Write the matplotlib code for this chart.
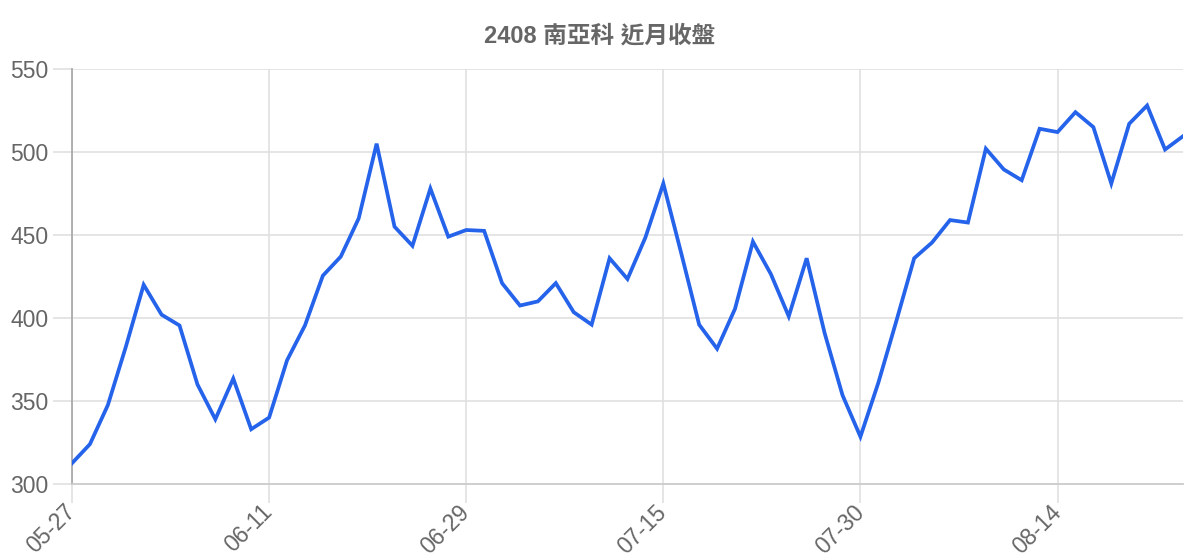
import matplotlib
matplotlib.use("Agg")
import matplotlib.pyplot as plt

plt.rcParams['font.family'] = ['Liberation Sans', 'Noto Sans CJK TC', 'DejaVu Sans']

# 收盤日期（每個交易日）
dates = ["05-27", "05-28", "05-29", "05-30", "05-31", "06-03", "06-04", "06-05",
         "06-06", "06-07", "06-10", "06-11", "06-12", "06-13", "06-14", "06-17",
         "06-18", "06-19", "06-20", "06-21", "06-24", "06-26", "06-29", "07-01",
         "07-02", "07-03", "07-04", "07-05", "07-08", "07-09", "07-10", "07-11",
         "07-12", "07-15", "07-16", "07-17", "07-18", "07-19", "07-22", "07-23",
         "07-24", "07-25", "07-26", "07-29", "07-30", "07-31", "08-01", "08-02",
         "08-05", "08-06", "08-07", "08-08", "08-09", "08-12", "08-13", "08-14",
         "08-15", "08-16", "08-19", "08-20", "08-21", "08-22", "08-23"]

# 收盤價
close = [312.5, 324, 347.5, 382.5, 420, 402, 395.5, 360, 339, 363.5,
         333, 340, 374.5, 395.5, 425.5, 437, 460, 505, 455, 443.5,
         478, 449, 453, 452.5, 421, 407.5, 410, 421, 403.5, 396,
         436, 423.5, 448.5, 481, 439, 396, 381.5, 405.5, 446, 426.5,
         401, 436, 391, 353.5, 328.5, 361, 398, 436, 445.5, 459,
         457.5, 502, 489.5, 483, 514, 512, 524, 515, 481, 517,
         528, 501.5, 509.5]

label_step = 11
title = "2408 南亞科 近月收盤"

fig = plt.figure(figsize=(12, 5.6), dpi=100)
ax = fig.add_axes([0.06, 1 - 484 / 560, 0.9858 - 0.06, (484 - 69) / 560])

x = list(range(len(close)))
ax.plot(x, close, color='#2563eb', linewidth=2.7, solid_joinstyle='miter', zorder=3)

ax.set_xlim(0, len(close) - 1)
ax.set_ylim(300, 550)
ax.set_yticks([300, 350, 400, 450, 500, 550])
ax.set_xticks(x[::label_step])
ax.set_xticklabels(dates[::label_step], rotation=45, ha='right', va='center',
                   rotation_mode='anchor')

ax.grid(True, color='#e0e0e0', linewidth=1.2)
ax.set_axisbelow(True)
for s in ['top', 'right']:
    ax.spines[s].set_visible(False)
ax.spines['left'].set_color('#aaaaaa')
ax.spines['left'].set_linewidth(1.3)
ax.spines['bottom'].set_color('#cccccc')
ax.spines['bottom'].set_linewidth(1.3)

ax.tick_params(axis='both', length=13.7, width=1.2, color='#e0e0e0',
               labelcolor='#666666', labelsize=16.5, pad=3)
ax.tick_params(axis='x', pad=4)
ax.xaxis.get_major_ticks()[0].tick1line.set_color('#aaaaaa')

fig.text(0.5, 1 - 36 / 560, title, ha='center', va='center', fontsize=17,
         fontweight='bold', color='#666666')

fig.savefig('out.png', dpi=100, facecolor='white')
